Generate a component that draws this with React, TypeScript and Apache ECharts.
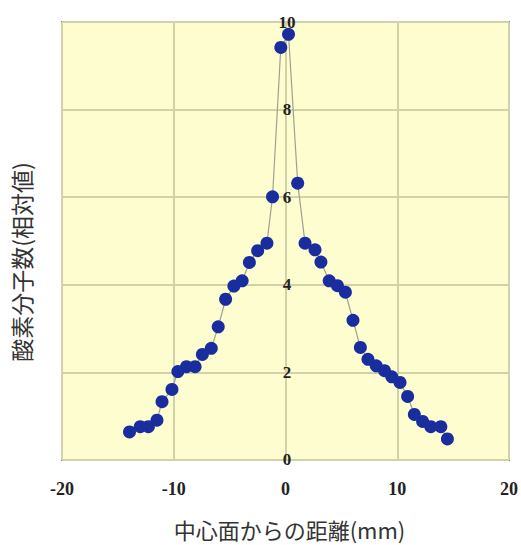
import React, { useEffect, useRef } from "react";
import * as echarts from "echarts";

const xValues = [-13.96, -13.0, -12.27, -11.5, -11.05, -10.16, -9.63, -8.86, -8.09, -7.44, -6.64, -6.02, -5.36, -4.62, -3.88, -3.23, -2.49, -1.66, -1.16, -0.42, 0.27, 1.09, 1.75, 2.64, 3.17, 3.91, 4.65, 5.36, 6.04, 6.7, 7.38, 8.12, 8.86, 9.51, 10.25, 10.93, 11.53, 12.27, 13.0, 13.9, 14.49];
const yValues = [0.64, 0.76, 0.76, 0.91, 1.33, 1.61, 2.02, 2.13, 2.13, 2.41, 2.55, 3.04, 3.67, 3.97, 4.09, 4.51, 4.78, 4.95, 6.01, 9.42, 9.72, 6.32, 4.95, 4.8, 4.52, 4.09, 3.98, 3.83, 3.19, 2.57, 2.3, 2.15, 2.04, 1.9, 1.77, 1.45, 1.04, 0.88, 0.76, 0.76, 0.48];
const xTitle = "中心面からの距離(mm)";
const yTitle = "酸素分子数(相対値)";

export default function App() {
  const ref = useRef<HTMLDivElement>(null);
  useEffect(() => {
    if (!ref.current) return;
    const chart = echarts.init(ref.current, null, { renderer: "svg" });
    const data = xValues.map((x, i) => [x, yValues[i]]);
    chart.setOption({
      animation: false,
      backgroundColor: "#ffffff",
      grid: {
        left: 62,
        top: 22,
        width: 450,
        height: 443,
        show: true,
        backgroundColor: "#fdfdcf",
        borderColor: "#8a8a80",
        borderWidth: 2,
      },
      graphic: [
        {
          type: "text",
          x: 21,
          y: 262,
          rotation: Math.PI / 2,
          style: {
            text: yTitle,
            fontFamily: "Noto Sans CJK JP",
            fontSize: 23,
            fill: "#333",
            align: "center",
            verticalAlign: "middle",
          },
        },
      ],
      xAxis: {
        type: "value",
        min: -20,
        max: 20,
        interval: 10,
        name: xTitle,
        nameLocation: "middle",
        nameGap: 58,
        nameTextStyle: { fontFamily: "Noto Sans CJK JP", fontSize: 22, color: "#333", padding: [0, 0, 0, 8] },
        axisLine: { show: false },
        axisTick: { show: false },
        axisLabel: {
          margin: 20,
          fontFamily: "Liberation Serif",
          fontWeight: "bold",
          fontSize: 18,
          color: "#222",
        },
        splitLine: { show: true, lineStyle: { color: "#d2d2a8", width: 2 } },
      },
      yAxis: {
        type: "value",
        min: 0,
        max: 10,
        interval: 2,
        axisLine: { show: false },
        axisTick: { show: false },
        axisLabel: {
          margin: -225,
          align: "center",
          fontFamily: "Liberation Serif",
          fontWeight: "bold",
          fontSize: 17,
          color: "#222",
        },
        splitLine: { show: true, lineStyle: { color: "#d2d2a8", width: 2 } },
      },
      series: [
        {
          type: "line",
          data,
          symbol: "circle",
          symbolSize: 13,
          itemStyle: { color: "#1a2d9e" },
          lineStyle: { color: "#a0a090", width: 1.2 },
          z: 3,
        },
      ],
    });
    return () => chart.dispose();
  }, []);
  return <div ref={ref} style={{ position: "absolute", left: 0, top: 0, width: 521, height: 545 }} />;
}
